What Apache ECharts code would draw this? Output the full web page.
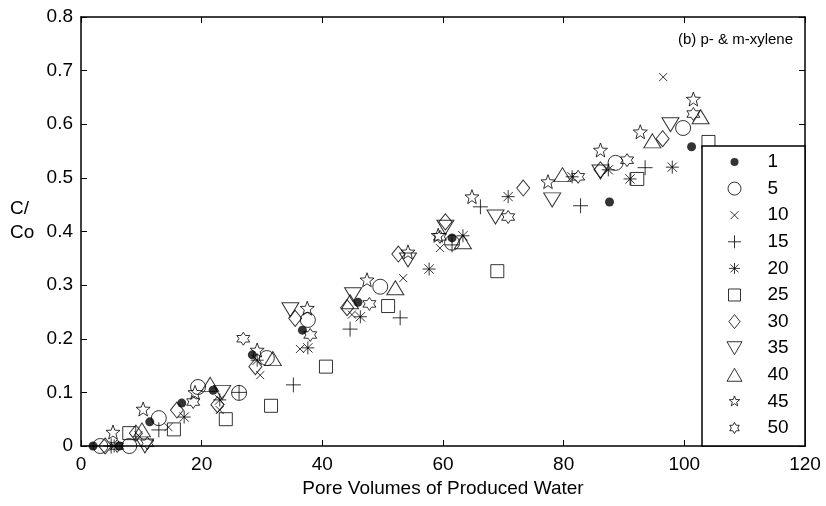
<!DOCTYPE html>
<html>
<head>
<meta charset="utf-8">
<script src="https://cdn.jsdelivr.net/npm/echarts@6/dist/echarts.min.js"></script>
<style>html,body{margin:0;padding:0;background:#fff}#c{width:826px;height:506px}</style>
</head>
<body>
<div id="c"></div>
<script>
// ---- data (x = pore volumes, y = C/Co) ----
const seriesNames = ['1','5','10','15','20','25','30','35','40','45','50'];
const s1  = [[2,0],[6.3,0],[11.4,0.045],[16.7,0.08],[21.9,0.104],[28.4,0.17],[36.7,0.216],[45.9,0.268],[61.5,0.388],[87.6,0.455],[101.2,0.558]];
const s5  = [[3.2,0],[8,0],[12.9,0.052],[19.4,0.11],[26.2,0.099],[30.8,0.164],[37.6,0.235],[49.6,0.297],[61.5,0.379],[88.6,0.528],[99.8,0.593]];
const s10 = [[9.5,0.02],[14.5,0.035],[23,0.067],[29.7,0.132],[36.3,0.181],[44.9,0.245],[53.4,0.313],[59.5,0.369],[96.5,0.688]];
const s15 = [[5,0],[12.9,0.03],[26.2,0.1],[35.2,0.114],[44.6,0.218],[52.9,0.239],[61.5,0.375],[66.2,0.446],[82.8,0.448],[93.5,0.519]];
const s20 = [[5.5,0],[17.1,0.054],[23,0.086],[29.2,0.16],[37.6,0.183],[46.3,0.241],[57.7,0.33],[63.3,0.392],[70.8,0.465],[81.4,0.502],[87.4,0.515],[91,0.498],[98,0.52]];
const s25 = [[8,0.024],[15.4,0.031],[24,0.05],[31.5,0.075],[40.6,0.148],[50.9,0.261],[69,0.326],[92.2,0.498],[104,0.567]];
const s30 = [[4,0],[9.1,0.024],[15.9,0.067],[22.6,0.077],[28.9,0.148],[35.5,0.238],[44.1,0.258],[52.6,0.358],[60.4,0.418],[73.3,0.481],[86.1,0.515],[96.4,0.573]];
const s35 = [[10.6,0],[23.4,0.1],[34.7,0.254],[45.1,0.282],[54.2,0.347],[60.4,0.408],[68.7,0.427],[78.1,0.459],[86.1,0.511],[97.7,0.599]];
const s40 = [[10.1,0.03],[21.4,0.115],[31.8,0.163],[44.6,0.269],[52.1,0.295],[63.3,0.381],[79.8,0.506],[94.7,0.569],[102.7,0.614]];
const s45 = [[5.3,0.026],[10.3,0.069],[18.9,0.1],[29.2,0.179],[37.5,0.257],[47.4,0.31],[54.2,0.362],[59.2,0.393],[64.8,0.465],[77.4,0.493],[86.1,0.552],[92.7,0.586],[101.5,0.647]];
const s50 = [[6,0],[11,0.005],[18.6,0.082],[26.9,0.2],[38,0.207],[47.8,0.265],[59.5,0.39],[70.8,0.427],[82.4,0.502],[90.5,0.533],[101.5,0.619]];
const seriesData = [s1,s5,s10,s15,s20,s25,s30,s35,s40,s45,s50];
const xTicks = {min:0, max:120, interval:20};
const yTicks = {min:0, max:0.8, interval:0.1};

// ---- marker shapes ----
function starPath(n, inner){
  let d='';
  for(let i=0;i<2*n;i++){
    const a=-Math.PI/2+i*Math.PI/n, r=(i%2)?inner*50:50;
    d+=(i?'L':'M')+(r*Math.cos(a)).toFixed(2)+' '+(r*Math.sin(a)).toFixed(2);
  }
  return d+'Z';
}
const circleP='M-50 0A50 50 0 1 1 50 0A50 50 0 1 1 -50 0Z';
const shapes=[
  {d:circleP, size:9, leg:8, filled:true},
  {d:circleP, size:15, leg:13},
  {d:'M-50 -50L50 50M50 -50L-50 50', size:8, leg:8},
  {d:'M0 -50L0 50M-50 0L50 0', size:15, leg:13},
  {d:'M0 -50L0 50M-50 0L50 0M-36 -36L36 36M36 -36L-36 36', size:13, leg:11},
  {d:'M-50 -50L50 -50L50 50L-50 50Z', size:13, leg:12},
  {d:'M0 -50L40 0L0 50L-40 0Z', size:[13,16], leg:14},
  {d:'M-50 -43L50 -43L0 43Z', size:[17,14], leg:15},
  {d:'M0 -43L50 43L-50 43Z', size:[17,14], leg:15},
  {d:starPath(5,0.42), size:14, leg:11},
  {d:starPath(6,0.577), size:13, leg:11}
];
const LEG=16;
function legIcon(sh){
  const P=(50*LEG/sh.leg).toFixed(2);
  return 'path://'+sh.d+'M-'+P+' -'+P+'M'+P+' '+P;
}

const series = seriesNames.map((nm,i)=>({
  name: nm, type:'scatter', data: seriesData[i],
  symbol:'path://'+shapes[i].d, symbolSize: shapes[i].size,
  itemStyle: shapes[i].filled ? {color:'#000', borderWidth:0} : {color:'transparent', borderColor:'#000', borderWidth:1},
  emphasis:{disabled:true}, z:2
}));

const font='Liberation Sans, Arial, Helvetica, sans-serif';
const chart = echarts.init(document.getElementById('c'), null, {renderer:'canvas'});
chart.setOption({
  animation:false,
  backgroundColor:'#fff',
  grid:{left:81, right:21, top:17, bottom:60},
  xAxis:[{
    type:'value', min:xTicks.min, max:xTicks.max, interval:xTicks.interval,
    axisLine:{show:true, onZero:false, lineStyle:{color:'#000', width:1.5}},
    axisTick:{inside:true, length:6, lineStyle:{color:'#000'}},
    axisLabel:{color:'#000', fontSize:19, fontFamily:font, margin:9},
    splitLine:{show:false},
    name:'Pore Volumes of Produced Water', nameLocation:'middle', nameGap:25,
    nameTextStyle:{color:'#000', fontSize:19, fontFamily:font}
  },{
    type:'value', position:'top', min:xTicks.min, max:xTicks.max, interval:xTicks.interval,
    axisLine:{show:true, onZero:false, lineStyle:{color:'#000', width:1.5}},
    axisTick:{inside:true, length:6, lineStyle:{color:'#000'}},
    axisLabel:{show:false}, splitLine:{show:false}
  }],
  yAxis:[{
    type:'value', min:yTicks.min, max:yTicks.max, interval:yTicks.interval,
    axisLine:{show:true, onZero:false, lineStyle:{color:'#000', width:1.5}},
    axisTick:{inside:true, length:6, lineStyle:{color:'#000'}},
    axisLabel:{color:'#000', fontSize:19, fontFamily:font, margin:8},
    splitLine:{show:false}
  },{
    type:'value', position:'right', min:yTicks.min, max:yTicks.max, interval:yTicks.interval,
    axisLine:{show:true, onZero:false, lineStyle:{color:'#000', width:1.5}},
    axisTick:{inside:true, length:6, lineStyle:{color:'#000'}},
    axisLabel:{show:false}, splitLine:{show:false}
  }],
  legend:{
    orient:'vertical', left:726, top:152, padding:0, z:20,
    itemWidth:LEG, itemHeight:LEG, itemGap:6.6, selectedMode:false,
    itemStyle:{borderWidth:1},
    textStyle:{color:'#000', fontSize:19, fontFamily:font, lineHeight:20, padding:[0,0,0,20]},
    data: seriesNames.map((nm,i)=>({name:nm, icon:legIcon(shapes[i])}))
  },
  graphic:[
    {type:'rect', z:10, shape:{x:702, y:146, width:103, height:300}, style:{fill:'#fff', stroke:'#000', lineWidth:1.5}},
    {type:'text', left:10, top:199, style:{text:'C/', fill:'#000', font:'19px '+font}},
    {type:'text', left:10, top:223, style:{text:'Co', fill:'#000', font:'19px '+font}},
    {type:'text', right:33, top:32, style:{text:'(b) p- & m-xylene', fill:'#000', font:'15px '+font}}
  ],
  series: series
});
</script>
</body>
</html>
